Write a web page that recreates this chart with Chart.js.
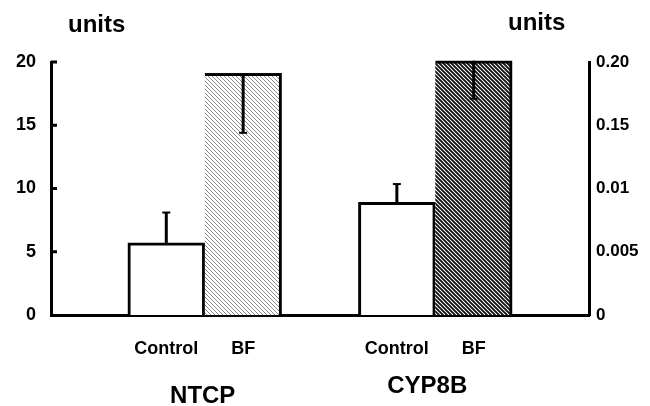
<!DOCTYPE html>
<html>
<head>
<meta charset="utf-8">
<script src="https://cdn.jsdelivr.net/npm/chart.js@4.4.1/dist/chart.umd.min.js"></script>
<style>
  html, body { margin: 0; padding: 0; background: #fff; }
  #wrap { width: 650px; height: 406px; }
</style>
</head>
<body>
<div id="wrap"><canvas id="chart" width="650" height="406"></canvas></div>
<script>
// slots: blank slots give the spacing between the two groups
const slots = ['', 'Control', 'BF', '', 'Control', 'BF', ''];
const groups = ['NTCP', 'CYP8B'];
const means = [null, 5.7, 19.1, null, 8.9, 20.1, null];
// positive = whisker up, negative = whisker drawn down inside the bar
const errors = [null, 2.4, -4.7, null, 1.45, -3.0, null];
const leftTicks = [0, 5, 10, 15, 20];
const rightTickLabels = ['0', '0.005', '0.01', '0.15', '0.20'];

const FONT = '"Liberation Sans", Arial, Helvetica, sans-serif';

function hatch(color, width) {
  const p = document.createElement('canvas');
  p.width = 4; p.height = 4;
  const g = p.getContext('2d');
  g.fillStyle = '#fff';
  g.fillRect(0, 0, 4, 4);
  g.strokeStyle = color;
  g.lineWidth = width;
  g.beginPath();
  g.moveTo(-1, -1); g.lineTo(5, 5);
  g.moveTo(-1, 3); g.lineTo(1, 5);
  g.moveTo(3, -1); g.lineTo(5, 1);
  g.stroke();
  return g.createPattern(p, 'repeat');
}

const ctx = document.getElementById('chart').getContext('2d');
const lightHatch = hatch('#8a8a8a', 1);
const darkHatch = hatch('#111', 1.9);

const fills = slots.map((s, i) => {
  if (s !== 'BF') return '#fff';
  return i < 3 ? lightHatch : darkHatch;
});
const borders = slots.map(s => s === 'BF'
  ? { left: 0, top: 3, right: 3, bottom: 0 }
  : { left: 3, top: 3, right: 3, bottom: 0 });

const extras = {
  id: 'extras',
  afterDatasetsDraw(chart) {
    const c = chart.ctx;
    const x = chart.scales.x;
    const y = chart.scales.y;
    const bars = chart.getDatasetMeta(0).data;
    c.save();
    c.strokeStyle = '#000';

    // error whiskers
    errors.forEach((e, i) => {
      if (e == null) return;
      const bx = bars[i].x;
      const y0 = y.getPixelForValue(means[i]);
      const y1 = y.getPixelForValue(means[i] + e);
      c.lineWidth = 3;
      c.beginPath(); c.moveTo(bx, y0); c.lineTo(bx, y1); c.stroke();
      c.lineWidth = 2;
      c.beginPath(); c.moveTo(bx - 4, y1); c.lineTo(bx + 4, y1); c.stroke();
    });

    // inward ticks on the left axis
    c.lineWidth = 3;
    leftTicks.forEach(v => {
      if (v === 0) return;
      const py = y.getPixelForValue(v);
      c.beginPath(); c.moveTo(chart.chartArea.left, py); c.lineTo(chart.chartArea.left + 6, py); c.stroke();
    });

    // texts
    c.fillStyle = '#000';
    c.font = 'bold 24px ' + FONT;
    c.textBaseline = 'alphabetic';
    c.textAlign = 'left';
    c.fillText('units', 68, 32);
    c.fillText('units', 508, 30);

    c.font = 'bold 24px ' + FONT;
    c.textAlign = 'center';
    c.textBaseline = 'middle';
    groups.forEach((g, k) => {
      const cx = (x.getPixelForValue(1 + 3 * k) + x.getPixelForValue(2 + 3 * k)) / 2;
      c.fillText(g, cx - 2 - 6 * k, 396 - 10 * k);
    });
    c.restore();
  }
};

new Chart(ctx, {
  type: 'bar',
  data: {
    labels: slots,
    datasets: [{
      data: means,
      backgroundColor: fills,
      borderColor: '#000',
      borderWidth: borders,
      borderSkipped: false,
      barPercentage: 1,
      categoryPercentage: 1,
      clip: false
    }]
  },
  options: {
    responsive: false,
    animation: false,
    devicePixelRatio: 1,
    layout: { padding: { top: 62, left: 0, right: 0, bottom: 0 } },
    plugins: { legend: { display: false }, tooltip: { enabled: false } },
    scales: {
      x: {
        grid: { display: false, drawTicks: false },
        border: { display: true, color: '#000', width: 3 },
        ticks: { color: '#000', font: { family: FONT, size: 18, weight: 'bold' }, padding: 23, maxRotation: 0, autoSkip: false },
        afterFit: s => { s.height = 91; }
      },
      y: {
        position: 'left',
        min: 0, max: 20,
        afterBuildTicks: s => { s.ticks = leftTicks.map(v => ({ value: v })); },
        grid: { display: false, drawTicks: false },
        border: { display: true, color: '#000', width: 3 },
        ticks: { color: '#000', font: { family: FONT, size: 18, weight: 'bold' }, padding: 15 },
        afterFit: s => { s.width = 51; }
      },
      y2: {
        position: 'right',
        min: 0, max: 20,
        afterBuildTicks: s => { s.ticks = leftTicks.map(v => ({ value: v })); },
        grid: { display: false, drawTicks: false },
        border: { display: true, color: '#000', width: 3 },
        ticks: {
          color: '#000', font: { family: FONT, size: 17, weight: 'bold' }, padding: 7,
          callback: (v, i) => rightTickLabels[i]
        },
        afterFit: s => { s.width = 61; }
      }
    }
  },
  plugins: [extras]
});
</script>
</body>
</html>
